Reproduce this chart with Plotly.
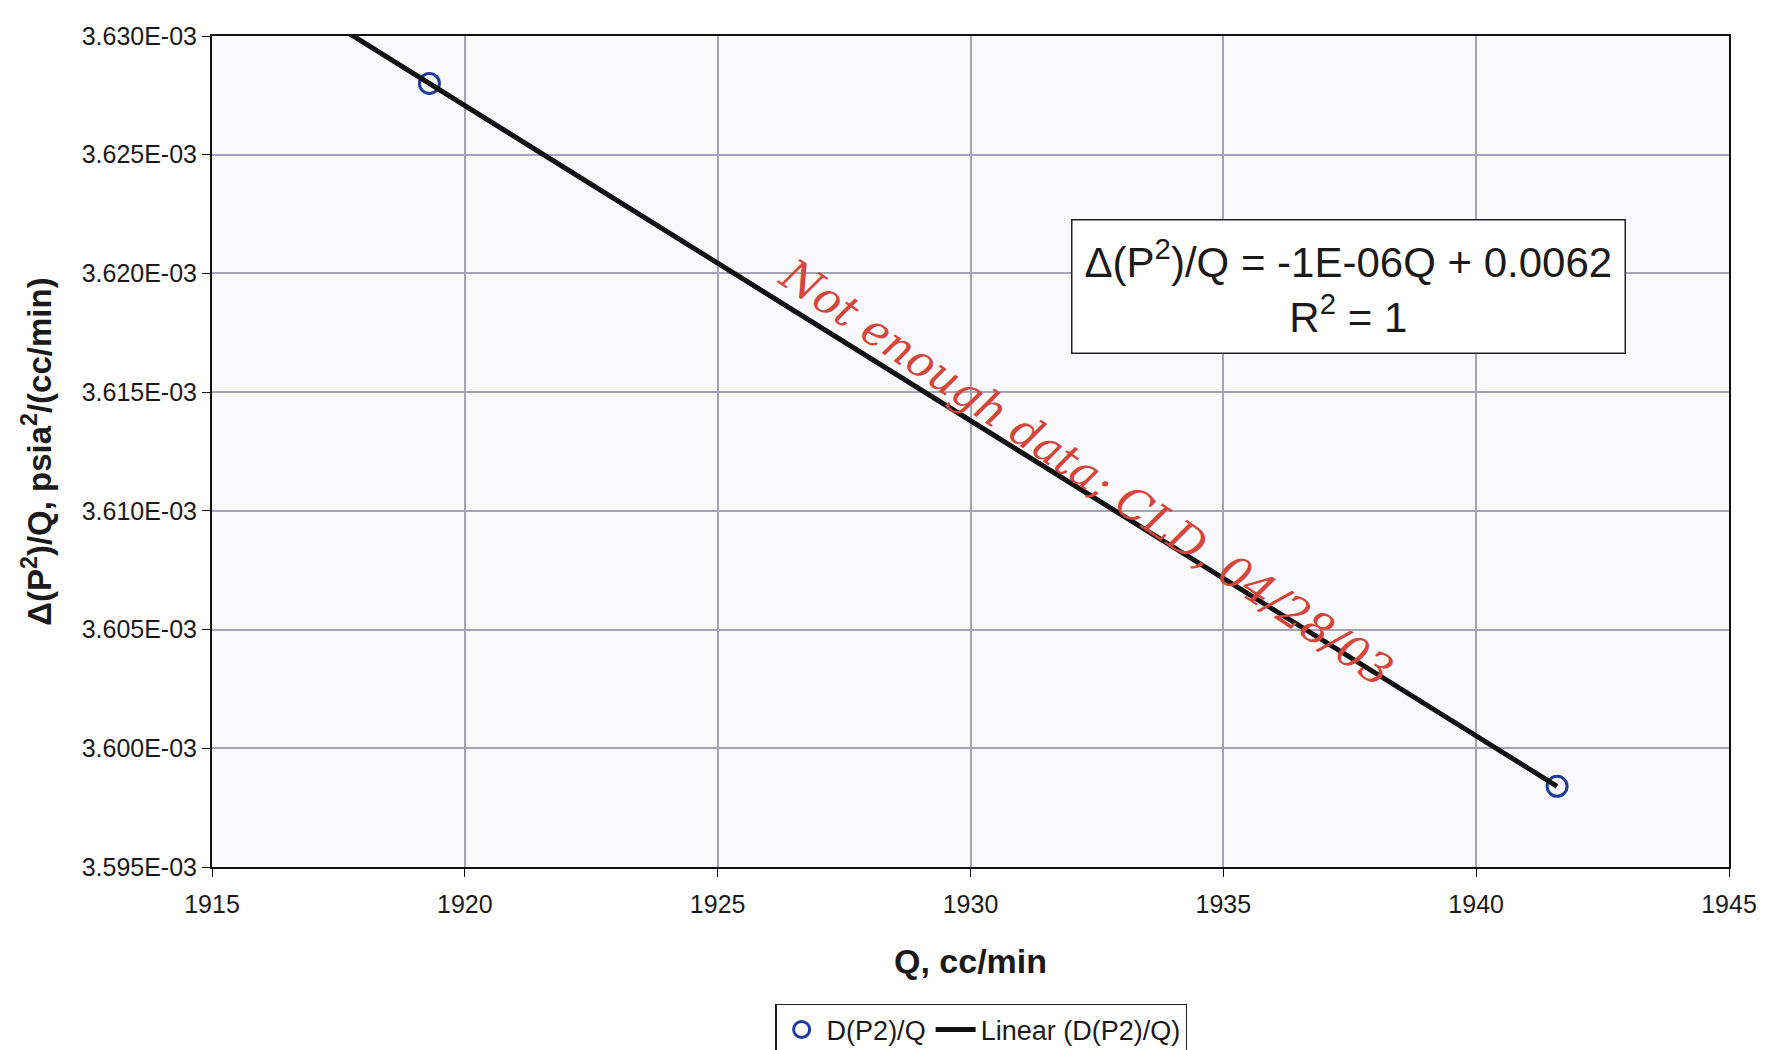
import numpy as np
import plotly.graph_objects as go

# Measured flow rates and the corresponding Δ(P²)/Q values
q_values = [1919.3, 1941.6]          # Q, cc/min
dp2_over_q = [3.6280e-3, 3.5984e-3]  # Δ(P²)/Q, psia²/(cc/min)

# Axis ticks
x_ticks = [1915, 1920, 1925, 1930, 1935, 1940, 1945]
y_ticks = [3.595e-3, 3.600e-3, 3.605e-3, 3.610e-3, 3.615e-3, 3.620e-3, 3.625e-3, 3.630e-3]
y_tick_labels = ["3.595E-03", "3.600E-03", "3.605E-03", "3.610E-03",
                 "3.615E-03", "3.620E-03", "3.625E-03", "3.630E-03"]

equation_text = "Δ(P<sup>2</sup>)/Q = -1E-06Q + 0.0062<br>R<sup>2</sup> = 1"
note_text = "Not enough data; CLD, 04/28/03"

# Linear trendline fitted to the data, forecast back to the left edge of the axis
slope, intercept = np.polyfit(q_values, dp2_over_q, 1)
trend_q = np.array([x_ticks[0], q_values[-1]])
trend_y = slope * trend_q + intercept

FONT = "Liberation Sans, Arial, sans-serif"

fig = go.Figure()

fig.add_trace(go.Scatter(
    x=q_values, y=dp2_over_q, mode="markers", name="D(P2)/Q",
    marker=dict(symbol="circle-open", size=20, color="#1f3c9c", line=dict(width=3, color="#1f3c9c")),
    cliponaxis=False,
))

fig.add_trace(go.Scatter(
    x=trend_q, y=trend_y, mode="lines", name="Linear (D(P2)/Q)",
    line=dict(color="#111111", width=5),
))

fig.update_layout(
    width=1765, height=1050,
    margin=dict(l=212, r=36, t=36, b=183, autoexpand=False),
    paper_bgcolor="white",
    plot_bgcolor="#f9f9fb",
    font=dict(family=FONT, color="#1a1a1a"),
    showlegend=True,
    legend=dict(
        orientation="h", x=0.507, y=-0.196, xanchor="center", yanchor="middle",
        bgcolor="white", bordercolor="#222222", borderwidth=1.5,
        font=dict(size=27, family=FONT, color="#1a1a1a"),
        itemwidth=40, tracegroupgap=0,
    ),
)

fig.update_xaxes(
    range=[1915, 1945], tickvals=x_ticks, ticktext=[str(v) for v in x_ticks],
    showgrid=True, gridcolor="#a4a4b4", gridwidth=1.5,
    showline=True, linecolor="#111111", linewidth=2, mirror=True,
    ticks="outside", ticklen=8, tickcolor="#111111", ticklabelstandoff=6,
    tickfont=dict(size=25, family=FONT, color="#1a1a1a"),
    title=dict(text="<b>Q, cc/min</b>", font=dict(size=34, family=FONT, color="#1a1a1a"), standoff=32),
    zeroline=False, automargin=False,
)

fig.update_yaxes(
    range=[3.595e-3, 3.630e-3], tickvals=y_ticks, ticktext=y_tick_labels,
    showgrid=True, gridcolor="#a4a4b4", gridwidth=1.5,
    showline=True, linecolor="#111111", linewidth=2, mirror=True,
    ticks="outside", ticklen=8, tickcolor="#111111",
    tickfont=dict(size=25, family=FONT, color="#1a1a1a"),
    title=dict(text="<b>Δ(P<sup>2</sup>)/Q, psia<sup>2</sup>/(cc/min)</b>",
               font=dict(size=33, family=FONT, color="#1a1a1a"), standoff=20),
    zeroline=False, automargin=False,
)

# Trendline equation box
fig.add_annotation(
    x=0.7495, y=0.698, xref="paper", yref="paper", xanchor="center", yanchor="middle",
    text=equation_text, showarrow=False, align="center",
    font=dict(size=42, family=FONT, color="#1a1a1a"),
    bgcolor="white", bordercolor="#222222", borderwidth=1.5, borderpad=12,
)

# Handwritten note along the trendline
fig.add_annotation(
    x=1932.3, y=3.6116e-3, xref="x", yref="y", xanchor="center", yanchor="middle",
    text=note_text, showarrow=False, textangle=34,
    font=dict(size=44, family="DejaVu Serif, serif", color="#d2463c", style="italic"),
)

fig.write_html("out.html")
